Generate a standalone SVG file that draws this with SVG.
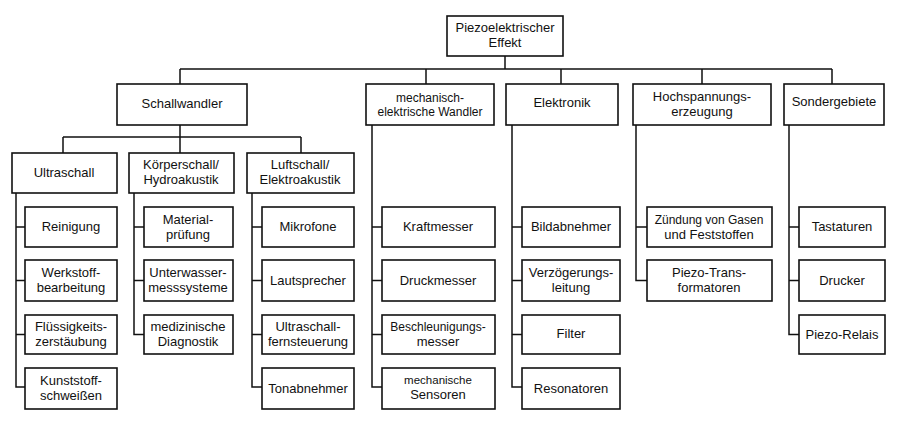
<svg xmlns="http://www.w3.org/2000/svg" width="903" height="428" viewBox="0 0 903 428">
<style>
.box{fill:#fff;stroke:#111;stroke-width:1.6}
.t{font-family:"Liberation Sans",Arial,Helvetica,sans-serif;font-size:13px;fill:#111;text-anchor:middle}
.s{font-size:12px}
.xs{font-size:11.5px}
.c{stroke:#111;stroke-width:1.5;fill:none}
</style>
<rect width="903" height="428" fill="#fff"/>
<g id="connectors">
<path class="c" d="M505 56V69M180 69H832M180 69V84M426 69V84M561 69V84M702 69V84M832 69V84"/>
<path class="c" d="M180 125V137M63 137H301M63 137V153M180 137V153M301 137V153"/>
<path class="c" d="M16 193V387H25M16 227H25M16 280.5H25M16 334.5H25"/>
<path class="c" d="M134 193V334.5H144M134 227H144M134 280.5H144"/>
<path class="c" d="M252 193V387H262M252 227H262M252 280.5H262M252 334.5H262"/>
<path class="c" d="M372 125V387H382M372 227H382M372 280.5H382M372 334.5H382"/>
<path class="c" d="M512 125V387H522M512 227H522M512 280.5H522M512 334.5H522"/>
<path class="c" d="M636 125V280.5H647M636 227H647"/>
<path class="c" d="M789 125V334.5H799M789 227H799M789 280.5H799"/>
</g>
<g id="root"><rect class="box" x="447" y="16" width="116" height="40"/><text class="t" x="505" y="32">Piezoelektrischer</text><text class="t" x="505" y="47">Effekt</text></g>
<g id="schallwandler"><rect class="box" x="117" y="84" width="130" height="41"/><text class="t" x="182" y="108">Schallwandler</text></g>
<g id="mechwandler"><rect class="box" x="366" y="84" width="128" height="41"/><text class="t s" x="430" y="102">mechanisch-</text><text class="t s" x="430" y="116">elektrische Wandler</text></g>
<g id="elektronik"><rect class="box" x="506" y="84" width="112" height="41"/><text class="t" x="562" y="107">Elektronik</text></g>
<g id="hochspannung"><rect class="box" x="633" y="84" width="138" height="41"/><text class="t" x="702" y="101">Hochspannungs-</text><text class="t" x="702" y="116">erzeugung</text></g>
<g id="sondergebiete"><rect class="box" x="784" y="84" width="100" height="41"/><text class="t" x="834" y="106">Sondergebiete</text></g>
<g id="ultraschall"><rect class="box" x="12" y="153" width="105" height="40"/><text class="t" x="64" y="177">Ultraschall</text></g>
<g id="koerperschall"><rect class="box" x="129" y="153" width="105" height="40"/><text class="t" x="181" y="169">Körperschall/</text><text class="t" x="181" y="184">Hydroakustik</text></g>
<g id="luftschall"><rect class="box" x="247" y="153" width="107" height="40"/><text class="t" x="300" y="169">Luftschall/</text><text class="t" x="300" y="184">Elektroakustik</text></g>
<g id="reinigung"><rect class="box" x="25" y="207" width="92" height="40"/><text class="t" x="71" y="231">Reinigung</text></g>
<g id="werkstoff"><rect class="box" x="25" y="260" width="92" height="41"/><text class="t" x="71" y="277">Werkstoff-</text><text class="t" x="71" y="292">bearbeitung</text></g>
<g id="fluessig"><rect class="box" x="25" y="315" width="92" height="39"/><text class="t" x="71" y="331">Flüssigkeits-</text><text class="t" x="71" y="346">zerstäubung</text></g>
<g id="kunststoff"><rect class="box" x="25" y="368" width="92" height="41"/><text class="t" x="71" y="385">Kunststoff-</text><text class="t" x="71" y="400">schweißen</text></g>
<g id="material"><rect class="box" x="144" y="207" width="89" height="40"/><text class="t" x="188" y="224">Material-</text><text class="t" x="188" y="239">prüfung</text></g>
<g id="unterwasser"><rect class="box" x="144" y="260" width="89" height="41"/><text class="t" x="188" y="277">Unterwasser-</text><text class="t" x="188" y="292">messsysteme</text></g>
<g id="medizin"><rect class="box" x="144" y="315" width="89" height="39"/><text class="t" x="188" y="331">medizinische</text><text class="t" x="188" y="346">Diagnostik</text></g>
<g id="mikrofone"><rect class="box" x="262" y="207" width="92" height="40"/><text class="t" x="308" y="231">Mikrofone</text></g>
<g id="lautsprecher"><rect class="box" x="262" y="260" width="92" height="41"/><text class="t" x="308" y="285">Lautsprecher</text></g>
<g id="fernsteuerung"><rect class="box" x="262" y="315" width="92" height="39"/><text class="t" x="308" y="331">Ultraschall-</text><text class="t" x="308" y="346">fernsteuerung</text></g>
<g id="tonabnehmer"><rect class="box" x="262" y="368" width="92" height="41"/><text class="t" x="308" y="393">Tonabnehmer</text></g>
<g id="kraftmesser"><rect class="box" x="382" y="207" width="113" height="40"/><text class="t" x="438" y="231">Kraftmesser</text></g>
<g id="druckmesser"><rect class="box" x="382" y="260" width="113" height="41"/><text class="t" x="438" y="285">Druckmesser</text></g>
<g id="beschleunigung"><rect class="box" x="382" y="315" width="113" height="39"/><text class="t s" x="438" y="331">Beschleunigungs-</text><text class="t" x="438" y="346">messer</text></g>
<g id="sensoren"><rect class="box" x="382" y="368" width="113" height="41"/><text class="t xs" x="438" y="384">mechanische</text><text class="t" x="438" y="399">Sensoren</text></g>
<g id="bildabnehmer"><rect class="box" x="522" y="207" width="98" height="40"/><text class="t" x="571" y="231">Bildabnehmer</text></g>
<g id="verzoegerung"><rect class="box" x="522" y="260" width="98" height="41"/><text class="t" x="571" y="277">Verzögerungs-</text><text class="t" x="571" y="292">leitung</text></g>
<g id="filter"><rect class="box" x="522" y="315" width="98" height="39"/><text class="t" x="571" y="338">Filter</text></g>
<g id="resonatoren"><rect class="box" x="522" y="368" width="98" height="41"/><text class="t" x="571" y="393">Resonatoren</text></g>
<g id="zuendung"><rect class="box" x="647" y="207" width="125" height="40"/><text class="t s" x="709" y="224">Zündung von Gasen</text><text class="t" x="709" y="239">und Feststoffen</text></g>
<g id="transformatoren"><rect class="box" x="647" y="260" width="125" height="41"/><text class="t" x="709" y="277">Piezo-Trans-</text><text class="t" x="709" y="292">formatoren</text></g>
<g id="tastaturen"><rect class="box" x="799" y="207" width="86" height="40"/><text class="t" x="842" y="231">Tastaturen</text></g>
<g id="drucker"><rect class="box" x="799" y="260" width="86" height="41"/><text class="t" x="842" y="285">Drucker</text></g>
<g id="relais"><rect class="box" x="799" y="315" width="86" height="39"/><text class="t" x="842" y="339">Piezo-Relais</text></g>
</svg>
